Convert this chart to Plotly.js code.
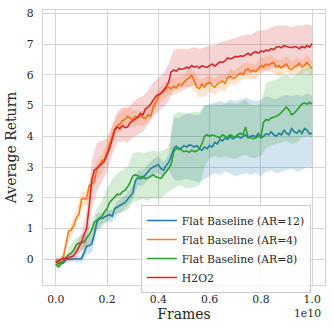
<!DOCTYPE html>
<html>
<head>
<meta charset="utf-8">
<script src="https://cdn.plot.ly/plotly-3.0.1.min.js"></script>
<style>html,body{margin:0;padding:0;background:#fff;}#chart{width:333px;height:332px;}</style>
</head>
<body>
<div id="chart"></div>
<script>
// Frames, in units of 1e10 (sampled every 0.01 for mean curves)
const framesMean = [0,0.01,0.02,0.03,0.04,0.05,0.06,0.07,0.08,0.09,
 0.1,0.11,0.12,0.13,0.14,0.15,0.16,0.17,0.18,0.19,
 0.2,0.21,0.22,0.23,0.24,0.25,0.26,0.27,0.28,0.29,
 0.3,0.31,0.32,0.33,0.34,0.35,0.36,0.37,0.38,0.39,
 0.4,0.41,0.42,0.43,0.44,0.45,0.46,0.47,0.48,0.49,
 0.5,0.51,0.52,0.53,0.54,0.55,0.56,0.57,0.58,0.59,
 0.6,0.61,0.62,0.63,0.64,0.65,0.66,0.67,0.68,0.69,
 0.7,0.71,0.72,0.73,0.74,0.75,0.76,0.77,0.78,0.79,
 0.8,0.81,0.82,0.83,0.84,0.85,0.86,0.87,0.88,0.89,
 0.9,0.91,0.92,0.93,0.94,0.95,0.96,0.97,0.98,0.99,
 1.0];
// Frames for the shaded bands (every 0.02)
const framesBand = [0,0.02,0.04,0.06,0.08,0.1,0.12,0.14,0.16,0.18,
 0.2,0.22,0.24,0.26,0.28,0.3,0.32,0.34,0.36,0.38,
 0.4,0.42,0.44,0.46,0.48,0.5,0.52,0.54,0.56,0.58,
 0.6,0.62,0.64,0.66,0.68,0.7,0.72,0.74,0.76,0.78,
 0.8,0.82,0.84,0.86,0.88,0.9,0.92,0.94,0.96,0.98,1.0];

const seriesNames = ['Flat Baseline (AR=12)','Flat Baseline (AR=4)','Flat Baseline (AR=8)','H2O2'];

const ar12Mean = [-0.05,-0.15,-0.1,-0.12,0.0,0.0,0.0,0.0,0.0,0.0,
 0.02,0.2,0.42,0.45,0.5,0.8,1.2,1.35,1.32,1.38,
 1.42,1.45,1.4,1.65,1.7,1.75,1.78,1.85,1.95,2.05,
 2.15,2.55,2.65,2.62,2.65,2.75,2.85,2.95,3.0,3.05,
 3.08,2.95,2.9,3.05,3.15,3.35,3.6,3.68,3.58,3.62,
 3.7,3.65,3.72,3.7,3.65,3.7,3.6,3.55,3.65,3.6,
 3.7,3.65,3.8,3.75,3.9,3.85,3.95,3.9,4.0,3.92,
 3.95,4.0,3.95,3.98,4.05,3.95,4.0,4.02,3.98,4.1,
 3.95,4.0,4.08,4.05,4.15,4.05,4.0,4.1,4.05,4.2,
 4.1,4.05,4.25,4.15,4.1,4.2,4.1,4.25,4.2,4.08,
 4.1];
const ar12Lo = [-0.15,-0.2,-0.08,-0.08,-0.08,-0.1,0.15,0.2,0.95,1.15,
 1.25,1.2,1.45,1.55,1.75,1.95,2.4,2.4,2.6,2.75,
 2.8,2.65,2.9,2.6,2.55,2.6,2.6,2.55,2.5,2.6,
 2.7,2.8,2.75,2.85,2.8,2.7,2.75,2.8,2.75,2.8,
 2.7,2.85,2.9,2.8,2.85,2.9,2.95,2.85,2.9,3.0,2.95];
const ar12Hi = [0.05,0.0,0.08,0.08,0.1,0.15,0.75,0.8,1.5,1.5,
 1.6,1.6,1.9,2.0,2.15,2.4,2.9,2.9,3.1,3.25,
 3.35,3.15,3.4,4.6,4.6,4.7,4.75,4.7,4.7,5.0,
 5.05,5.1,5.15,5.1,5.2,5.15,5.2,5.25,5.2,5.15,
 5.2,5.3,5.25,5.2,5.3,5.35,5.3,5.35,5.3,5.4,5.3];

const ar4Mean = [-0.05,-0.1,-0.02,0.08,0.5,0.92,0.95,1.1,1.35,1.45,
 1.95,1.98,1.97,2.4,2.45,2.52,2.95,3.05,3.2,3.25,
 3.5,3.75,4.0,4.25,4.35,4.4,4.5,4.55,4.65,4.6,
 4.55,4.65,4.6,4.7,4.6,4.58,4.7,4.65,4.95,5.1,
 5.3,5.4,5.45,5.55,5.6,5.55,5.62,5.58,5.7,5.65,
 5.75,5.85,5.9,5.98,5.8,5.6,5.55,5.7,5.6,5.72,
 5.75,5.65,5.6,5.7,5.75,5.8,5.72,5.9,5.95,5.88,
 5.9,6.0,6.05,6.0,6.15,6.2,6.1,6.15,6.1,6.2,
 6.3,6.25,6.35,6.3,6.38,6.4,6.25,6.3,6.22,6.3,
 6.35,6.2,6.18,6.25,6.3,6.38,6.25,6.3,6.4,6.3,
 6.2];
const ar4Lo = [-0.15,-0.1,0.3,0.75,1.1,1.7,1.75,2.2,2.6,2.8,
 3.3,3.75,4.1,4.2,4.35,4.3,4.35,4.35,4.45,4.7,
 5.05,5.2,5.35,5.35,5.4,5.5,5.6,5.5,5.25,5.3,
 5.45,5.35,5.5,5.45,5.7,5.65,5.8,5.9,5.85,5.85,
 6.05,6.1,6.1,6.0,5.95,6.1,5.95,6.05,6.0,6.15,5.95];
const ar4Hi = [0.05,0.05,0.7,1.15,1.6,2.2,2.2,2.75,3.2,3.4,
 3.8,4.3,4.7,4.85,5.0,4.85,4.85,4.85,4.95,5.2,
 5.55,5.7,5.85,5.9,5.95,6.0,6.2,6.1,5.85,5.9,
 6.0,5.85,6.0,6.0,6.2,6.15,6.3,6.4,6.35,6.35,
 6.55,6.6,6.65,6.5,6.5,6.6,6.45,6.55,6.5,6.65,6.45];

const ar8Mean = [-0.15,-0.25,-0.15,-0.05,0.05,0.15,0.2,0.3,0.48,0.52,
 0.56,0.55,0.7,0.8,0.95,1.2,1.28,1.3,1.4,1.55,
 1.65,1.85,1.95,2.05,2.12,2.1,2.2,2.25,2.35,2.5,
 2.7,2.75,2.72,2.68,2.7,2.62,2.65,2.7,2.75,2.68,
 2.65,2.63,2.75,2.85,2.95,3.1,3.5,3.6,3.62,3.55,
 3.5,3.52,3.48,3.55,3.5,3.52,3.6,3.75,4.0,4.05,
 4.0,4.05,4.02,4.0,3.95,4.05,4.0,3.98,4.05,4.0,
 3.98,4.05,4.1,4.05,4.3,3.98,3.95,3.92,3.95,4.0,
 3.98,4.45,4.55,4.52,4.6,4.62,4.65,4.7,4.78,4.85,
 4.95,4.85,4.7,4.75,4.85,4.95,5.05,5.08,5.05,5.1,
 5.05];
const ar8Lo = [-0.3,-0.25,-0.05,0.1,0.2,0.3,0.35,0.6,0.9,1.05,
 1.2,1.4,1.5,1.55,1.6,1.85,1.9,1.95,1.9,2.0,
 1.95,2.05,2.2,2.3,2.4,2.35,2.3,2.35,2.4,3.0,
 3.3,3.35,3.3,3.35,3.3,3.25,3.35,3.4,3.3,3.3,
 3.35,3.6,3.7,3.75,3.8,3.85,3.75,3.8,3.95,4.0,3.95];
const ar8Hi = [0.0,-0.05,0.15,0.5,0.7,0.8,0.95,1.25,1.65,1.9,
 2.3,2.6,2.8,2.9,3.0,3.45,3.5,3.45,3.5,3.55,
 3.5,3.55,3.65,4.7,4.8,4.75,4.75,4.8,4.8,5.0,
 5.0,5.05,5.0,5.05,5.1,5.05,5.1,5.2,5.0,5.0,
 5.05,5.75,5.8,5.85,5.95,6.0,5.9,6.05,6.2,6.25,6.25];

const h2o2Mean = [-0.1,-0.05,0.0,0.02,0.03,0.05,0.08,0.12,0.25,0.38,
 0.55,0.8,1.0,1.7,2.55,2.9,2.95,3.05,3.1,3.2,
 3.4,3.6,3.9,4.2,4.3,4.25,4.35,4.28,4.3,4.45,
 4.5,4.55,4.62,4.75,4.7,4.9,4.95,5.05,5.2,5.3,
 5.35,5.4,5.5,5.6,5.75,6.1,6.15,6.12,6.2,6.18,
 6.2,6.25,6.22,6.3,6.25,6.28,6.22,6.3,6.26,6.24,
 6.3,6.35,6.28,6.35,6.42,6.4,6.45,6.55,6.52,6.55,
 6.6,6.58,6.62,6.6,6.65,6.7,6.64,6.72,6.75,6.7,
 6.78,6.75,6.8,6.78,6.85,6.82,6.9,6.92,6.88,6.95,
 6.92,6.9,6.88,6.92,6.9,6.85,6.92,6.88,6.95,6.9,
 7.02];
const h2o2Lo = [-0.2,-0.1,-0.08,-0.05,0.05,0.25,0.5,1.6,2.2,2.5,
 2.85,3.4,3.8,3.85,3.8,3.95,4.05,4.15,4.4,4.65,
 4.8,4.95,5.15,5.5,5.55,5.6,5.6,5.65,5.6,5.65,
 5.7,5.7,5.8,5.85,5.9,5.95,6.0,6.0,6.05,6.1,
 6.15,6.15,6.2,6.25,6.25,6.25,6.25,6.25,6.3,6.3,6.35];
const h2o2Hi = [0.0,0.1,0.12,0.2,0.45,0.85,1.6,3.2,3.8,3.85,
 3.95,4.4,4.8,4.95,4.9,5.1,5.25,5.3,5.5,5.75,
 5.9,6.05,6.35,6.8,6.85,6.85,6.85,6.9,6.85,6.9,
 6.95,6.95,7.05,7.1,7.15,7.2,7.25,7.3,7.3,7.4,
 7.45,7.45,7.55,7.6,7.6,7.6,7.55,7.6,7.6,7.65,7.6];

const lineColors = ['#1f77b4','#ff7f0e','#2ca02c','#d62728'];
const bandColors = ['rgba(31,119,180,0.2)','rgba(255,127,14,0.2)','rgba(44,160,44,0.2)','rgba(214,39,40,0.2)'];

const means = [ar12Mean, ar4Mean, ar8Mean, h2o2Mean];
const los = [ar12Lo, ar4Lo, ar8Lo, h2o2Lo];
const his = [ar12Hi, ar4Hi, ar8Hi, h2o2Hi];

const traces = [];
for (let i = 0; i < 4; i++) {
  const revX = framesBand.slice().reverse();
  const revLo = los[i].slice().reverse();
  traces.push({
    x: framesBand.concat(revX),
    y: his[i].concat(revLo),
    type: 'scatter', mode: 'lines', fill: 'toself',
    fillcolor: bandColors[i], line: {width: 0, color: bandColors[i]},
    hoverinfo: 'skip', showlegend: false
  });
  traces.push({
    x: framesMean, y: means[i], type: 'scatter', mode: 'lines',
    name: seriesNames[i], line: {color: lineColors[i], width: 1.6}
  });
}

const gridC = '#d4d4d4';
const layout = {
  width: 333, height: 332,
  margin: {l: 43, r: 8, t: 10, b: 47},
  paper_bgcolor: '#ffffff', plot_bgcolor: '#ffffff',
  font: {family: 'DejaVu Serif', color: '#262626', size: 10.8},
  xaxis: {
    range: [-0.05, 1.05], tickvals: [0, 0.2, 0.4, 0.6, 0.8, 1.0], tickformat: '.1f',
    showgrid: true, gridcolor: gridC, gridwidth: 1, zeroline: false,
    showline: true, mirror: true, linecolor: gridC, linewidth: 1.25,
    ticks: '', ticklabelstandoff: 4,
    title: {text: 'Frames', font: {size: 14}, standoff: 3}
  },
  yaxis: {
    range: [-0.836, 8.108], tickvals: [0, 1, 2, 3, 4, 5, 6, 7, 8],
    showgrid: true, gridcolor: gridC, gridwidth: 1, zeroline: false,
    showline: true, mirror: true, linecolor: gridC, linewidth: 1.25,
    ticks: '', ticklabelstandoff: 6,
    title: {text: 'Average Return', font: {size: 14}, standoff: 6}
  },
  showlegend: true,
  legend: {
    x: 0.347, y: 0.291, xanchor: 'left', yanchor: 'top',
    bgcolor: 'rgba(255,255,255,0.8)', bordercolor: '#cccccc', borderwidth: 1,
    font: {size: 10.8}, traceorder: 'normal', tracegroupgap: 0
  },
  annotations: [{
    text: '1e10', xref: 'paper', yref: 'paper', x: 0.993, y: -0.102,
    xanchor: 'right', yanchor: 'middle', showarrow: false, font: {size: 10.8}
  }]
};

Plotly.newPlot('chart', traces, layout, {displayModeBar: false, staticPlot: true});
</script>
</body>
</html>
